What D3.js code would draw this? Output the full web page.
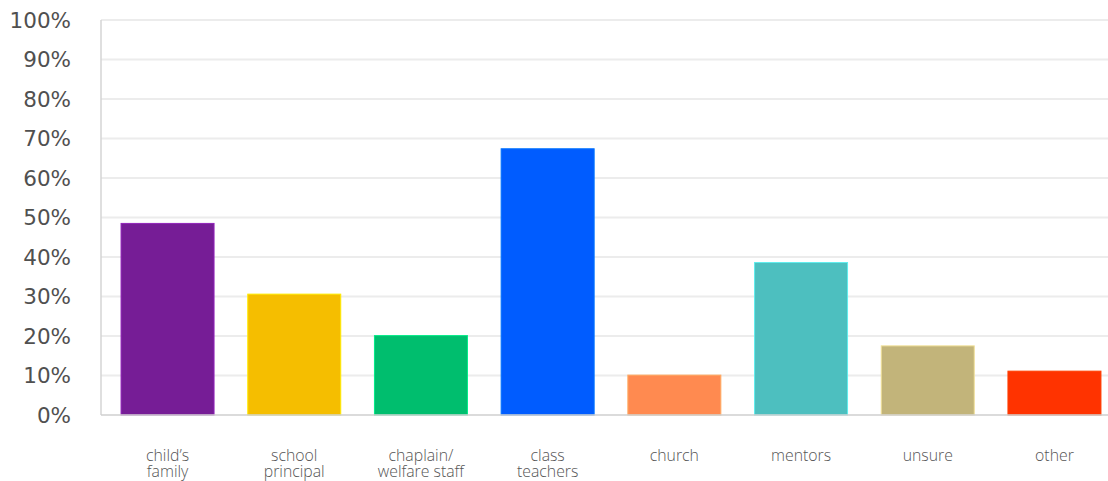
<!DOCTYPE html>
<html>
<head>
<meta charset="utf-8">
<script src="https://cdn.jsdelivr.net/npm/d3@7"></script>
<style>
  body { margin: 0; background: #fff; }
  svg { display: block; }
</style>
</head>
<body>
<div id="chart"></div>
<script>
// data
const categories = [["child’s", "family"], ["school", "principal"], ["chaplain/", "welfare staff"],
    ["class", "teachers"], ["church"], ["mentors"], ["unsure"], ["other"]];
const values = [48.5, 30.6, 20.1, 67.4, 10.1, 38.6, 17.5, 11.1];
const colors = ["#761d96", "#f5be00", "#00be6e", "#005cff", "#ff8a50", "#4dbfbf", "#c2b47a", "#ff3300"];
const yTicks = [0, 10, 20, 30, 40, 50, 60, 70, 80, 90, 100];

const width = 1108, height = 481;
const plot = {left: 101, right: 1108, top: 20, bottom: 415};

const svg = d3.select("#chart").append("svg")
    .attr("width", width)
    .attr("height", height);

const keys = categories.map((c, i) => i);

const x = d3.scaleBand()
    .domain(keys)
    .range([104.2, 1117.8])
    .paddingInner(0.266)
    .paddingOuter(0.133);

const y = d3.scaleLinear()
    .domain([0, 100])
    .range([plot.bottom, plot.top]);

// gridlines
svg.append("g")
    .selectAll("line")
    .data(yTicks.filter(d => d > 0))
    .enter().append("line")
    .attr("x1", plot.left)
    .attr("x2", plot.right)
    .attr("y1", d => y(d))
    .attr("y2", d => y(d))
    .attr("stroke", "#ececec")
    .attr("stroke-width", 2);

// left axis line
svg.append("line")
    .attr("x1", plot.left).attr("x2", plot.left)
    .attr("y1", plot.top).attr("y2", plot.bottom)
    .attr("stroke", "#d4d4d4")
    .attr("stroke-width", 1.5);

// y tick labels
svg.append("g")
    .selectAll("text")
    .data(yTicks)
    .enter().append("text")
    .attr("x", 71)
    .attr("y", d => y(d))
    .attr("dy", "0.36em")
    .attr("text-anchor", "end")
    .attr("font-family", "DejaVu Sans, Verdana, sans-serif")
    .attr("font-size", 21.5)
    .attr("fill", "#505050")
    .text(d => d + "%");

// bars
svg.append("g")
    .selectAll("rect")
    .data(values)
    .enter().append("rect")
    .attr("x", (d, i) => x(i))
    .attr("width", x.bandwidth())
    .attr("y", d => y(d))
    .attr("height", d => y(0) - y(d))
    .attr("fill", (d, i) => colors[i])
    .attr("stroke", (d, i) => d3.color(colors[i]).brighter(0.6))
    .attr("stroke-width", 1);

// baseline
svg.append("line")
    .attr("x1", plot.left).attr("x2", plot.right)
    .attr("y1", plot.bottom).attr("y2", plot.bottom)
    .attr("stroke", "#cfcfcf")
    .attr("stroke-width", 1.5);

// category labels
const lab = svg.append("g")
    .selectAll("text")
    .data(categories)
    .enter().append("text")
    .attr("x", (d, i) => x(i) + x.bandwidth() / 2)
    .attr("y", 461)
    .attr("text-anchor", "middle")
    .attr("font-family", "Open Sans, sans-serif")
    .attr("font-weight", 300)
    .attr("font-size", 15.8)
    .attr("fill", "#555");

lab.selectAll("tspan")
    .data(d => d)
    .enter().append("tspan")
    .attr("x", function () { return d3.select(this.parentNode).attr("x"); })
    .attr("dy", (d, i) => i === 0 ? 0 : 16)
    .text(d => d);
</script>
</body>
</html>
